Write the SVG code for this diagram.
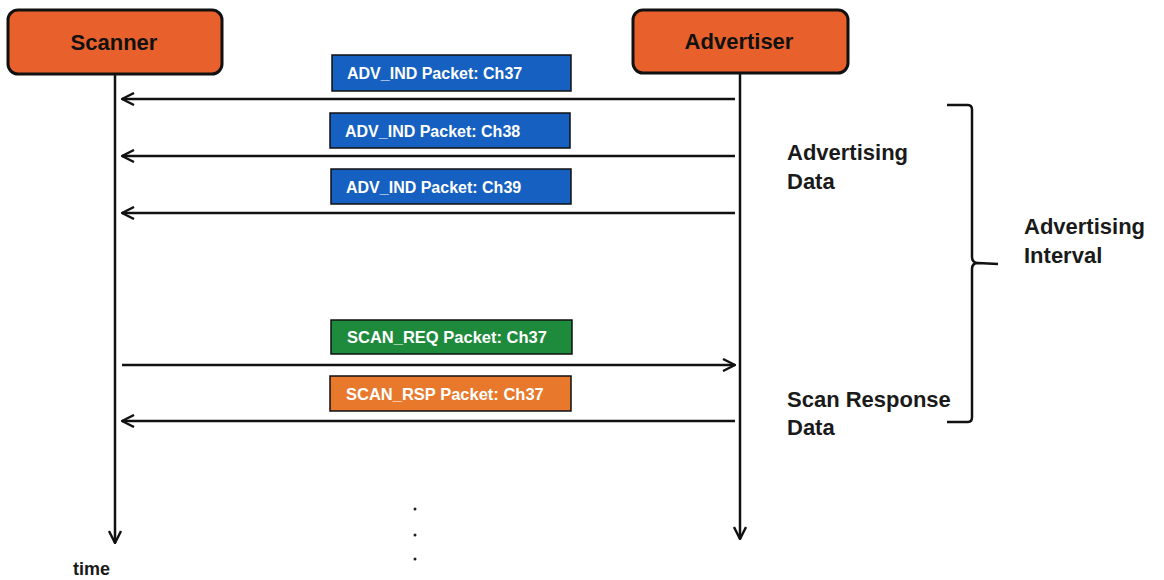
<svg xmlns="http://www.w3.org/2000/svg" width="1164" height="580" viewBox="0 0 1164 580">
<defs>
<marker id="ah" viewBox="0 0 14 14" refX="13" refY="7" markerWidth="14" markerHeight="14" markerUnits="userSpaceOnUse" orient="auto">
<path d="M1,1 L13,7 L1,13" fill="none" stroke="#111" stroke-width="2.4" stroke-linejoin="miter"/>
</marker>
<style>
.actor{fill:#E8612C;stroke:#111;stroke-width:3}
.atext{font-family:"Liberation Sans",Arial,sans-serif;font-weight:bold;font-size:22px;fill:#111;text-anchor:middle}
.pk{stroke:#111;stroke-width:1.5}
.ptext{font-family:"Liberation Sans",Arial,sans-serif;font-weight:bold;font-size:16px;fill:#fff}
.lbl{font-family:"Liberation Sans",Arial,sans-serif;font-weight:bold;font-size:22px;fill:#1a1a1a}
.ln{stroke:#111;stroke-width:2.5;fill:none}
</style>
</defs>
<rect width="1164" height="580" fill="#fff"/>
<g id="scanner">
<rect class="actor" x="8" y="10" width="214" height="64" rx="10"/>
<text class="atext" x="114" y="50">Scanner</text>
</g>
<g id="advertiser">
<rect class="actor" x="633" y="10" width="215" height="63" rx="10"/>
<text class="atext" x="739" y="49">Advertiser</text>
</g>
<g id="connectors">
<line class="ln" x1="115" y1="74" x2="115" y2="543" marker-end="url(#ah)"/>
<line class="ln" x1="740" y1="73" x2="740" y2="539" marker-end="url(#ah)"/>
<line class="ln" x1="735" y1="99" x2="122" y2="99" marker-end="url(#ah)"/>
<line class="ln" x1="735" y1="156" x2="122" y2="156" marker-end="url(#ah)"/>
<line class="ln" x1="735" y1="213" x2="122" y2="213" marker-end="url(#ah)"/>
<line class="ln" x1="122" y1="365" x2="735" y2="365" marker-end="url(#ah)"/>
<line class="ln" x1="735" y1="421" x2="122" y2="421" marker-end="url(#ah)"/>
</g>
<g id="adv37">
<rect class="pk" x="332" y="55" width="239" height="36" fill="#1560C0"/>
<text class="ptext" x="347" y="79">ADV_IND Packet: Ch37</text>
</g>
<g id="adv38">
<rect class="pk" x="330" y="113" width="240" height="35" fill="#1560C0"/>
<text class="ptext" x="345" y="137">ADV_IND Packet: Ch38</text>
</g>
<g id="adv39">
<rect class="pk" x="331" y="169" width="240" height="35" fill="#1560C0"/>
<text class="ptext" x="346" y="193">ADV_IND Packet: Ch39</text>
</g>
<g id="scanreq">
<rect class="pk" x="331" y="320" width="241" height="34" fill="#1E8A3C"/>
<text class="ptext" x="347" y="343" style="font-size:16.5px">SCAN_REQ Packet: Ch37</text>
</g>
<g id="scanrsp">
<rect class="pk" x="330" y="376" width="241" height="35" fill="#E8792C"/>
<text class="ptext" x="346" y="400" style="font-size:16.5px">SCAN_RSP Packet: Ch37</text>
</g>
<g id="labels">
<text class="lbl" x="787" y="160">Advertising</text>
<text class="lbl" x="787" y="189">Data</text>
<text class="lbl" x="787" y="407">Scan Response</text>
<text class="lbl" x="787" y="435">Data</text>
<text class="lbl" x="1024" y="234">Advertising</text>
<text class="lbl" x="1024" y="263">Interval</text>
<text class="lbl" x="73" y="575" style="font-size:18px">time</text>
</g>
<g id="brace">
<path d="M947,105 L968,105 Q972,105 972,110 L972,257 Q972,263 978,263 L998,264 M978,263 Q972,263 972,269 L972,417 Q972,422 968,422 L947,422" fill="none" stroke="#111" stroke-width="2.5"/>
</g>
<g id="dots" fill="#222">
<circle cx="415" cy="509" r="1.5"/>
<circle cx="415" cy="535" r="1.5"/>
<circle cx="415" cy="559" r="1.5"/>
</g>
</svg>
